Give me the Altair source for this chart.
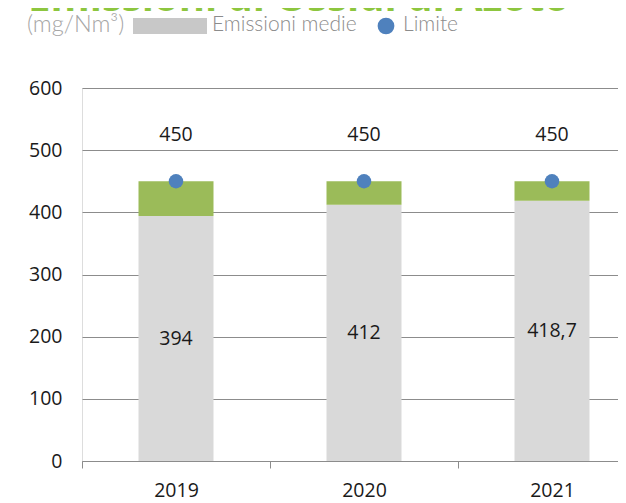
import altair as alt
import pandas as pd

years = ["2019", "2020", "2021"]
emissioni = [394, 412, 418.7]
limite = [450, 450, 450]
em_labels = ["394", "412", "418,7"]
lim_labels = ["450", "450", "450"]

df = pd.DataFrame({
    "anno": years,
    "emissioni": emissioni,
    "meta": [e / 2 for e in emissioni],
    "limite": limite,
    "em_lab": em_labels,
    "lim_lab": lim_labels,
})

FONT = "Open Sans"
HFONT = "Lato"
NUM = 19.5
x = alt.X("anno:N", sort=years, title=None,
          scale=alt.Scale(range=[0, 564], paddingInner=0, paddingOuter=0),
          axis=alt.Axis(labelAngle=0, tickBand="extent", tickSize=7, labelPadding=13,
                        domainColor="#8c8c8c", tickColor="#8c8c8c", labelFontSize=NUM,
                        labelColor="#1a1a1a", labelFont=FONT, grid=False))
yscale = alt.Scale(domain=[0, 600])
yaxis = alt.Axis(values=[0, 100, 200, 300, 400, 500, 600], ticks=False, domain=False,
                 labelPadding=20, labelFontSize=NUM, labelColor="#1a1a1a", labelFont=FONT,
                 gridColor="#8c8c8c", gridWidth=1, title=None)

base = alt.Chart(df)

gray = base.mark_bar(size=75, color="#d9d9d9").encode(
    x=x, y=alt.Y("emissioni:Q", scale=yscale, axis=yaxis), y2=alt.datum(0))
green = base.mark_bar(size=75, color="#9bbb59").encode(
    x=x, y=alt.Y("limite:Q", scale=yscale), y2="emissioni:Q")
dots = base.mark_point(filled=True, size=210, opacity=1, color="#4f81bd").encode(
    x=x, y=alt.Y("limite:Q", scale=yscale))
lab_em = base.mark_text(fontSize=NUM, font=FONT, color="#1a1a1a", baseline="middle").encode(
    x=x, y=alt.Y("meta:Q", scale=yscale), text="em_lab:N")
lab_lim = base.mark_text(fontSize=NUM, font=FONT, color="#1a1a1a", baseline="middle", dy=-46).encode(
    x=x, y=alt.Y("limite:Q", scale=yscale), text="lim_lab:N")

# header (title cut off at top, unit and legend)
title = alt.Chart(pd.DataFrame({"t": ["Emissioni di Ossidi di Azoto"]})).mark_text(
    fontSize=40, fontWeight="bold", font=FONT, color="#8dc63f", align="left", baseline="alphabetic"
).encode(x=alt.value(-54), y=alt.value(-77), text="t:N")
unit = alt.Chart(pd.DataFrame({"t": ["(mg/Nm³)"]})).mark_text(
    fontSize=23.5, font=HFONT, fontWeight=300, color="#a6a6a6", align="left", baseline="middle"
).encode(x=alt.value(-55), y=alt.value(-63), text="t:N")
leg_rect = alt.Chart(pd.DataFrame({"a": [1]})).mark_rect(color="#c8c8c8").encode(
    x=alt.value(51), x2=alt.value(125), y=alt.value(-70), y2=alt.value(-54))
leg_txt1 = alt.Chart(pd.DataFrame({"t": ["Emissioni medie"]})).mark_text(
    fontSize=21, font=HFONT, fontWeight=300, color="#8c8c8c", align="left", baseline="middle"
).encode(x=alt.value(130), y=alt.value(-63), text="t:N")
leg_dot = alt.Chart(pd.DataFrame({"a": [1]})).mark_point(
    filled=True, size=280, opacity=1, color="#4f81bd", shape="circle"
).encode(x=alt.value(304), y=alt.value(-62))
leg_txt2 = alt.Chart(pd.DataFrame({"t": ["Limite"]})).mark_text(
    fontSize=21, font=HFONT, fontWeight=300, color="#8c8c8c", align="left", baseline="middle"
).encode(x=alt.value(321), y=alt.value(-63), text="t:N")

chart = alt.layer(
    gray, green, dots, lab_em, lab_lim,
    title, unit, leg_rect, leg_txt1, leg_dot, leg_txt2
).properties(
    width=536, height=373,
    autosize=alt.AutoSizeParams(type="none"),
    padding={"left": 74, "top": 80, "right": 0, "bottom": 42},
).configure_view(stroke=None).configure(background="white")

chart.save("out.html", embed_options={"renderer": "svg", "actions": False})
